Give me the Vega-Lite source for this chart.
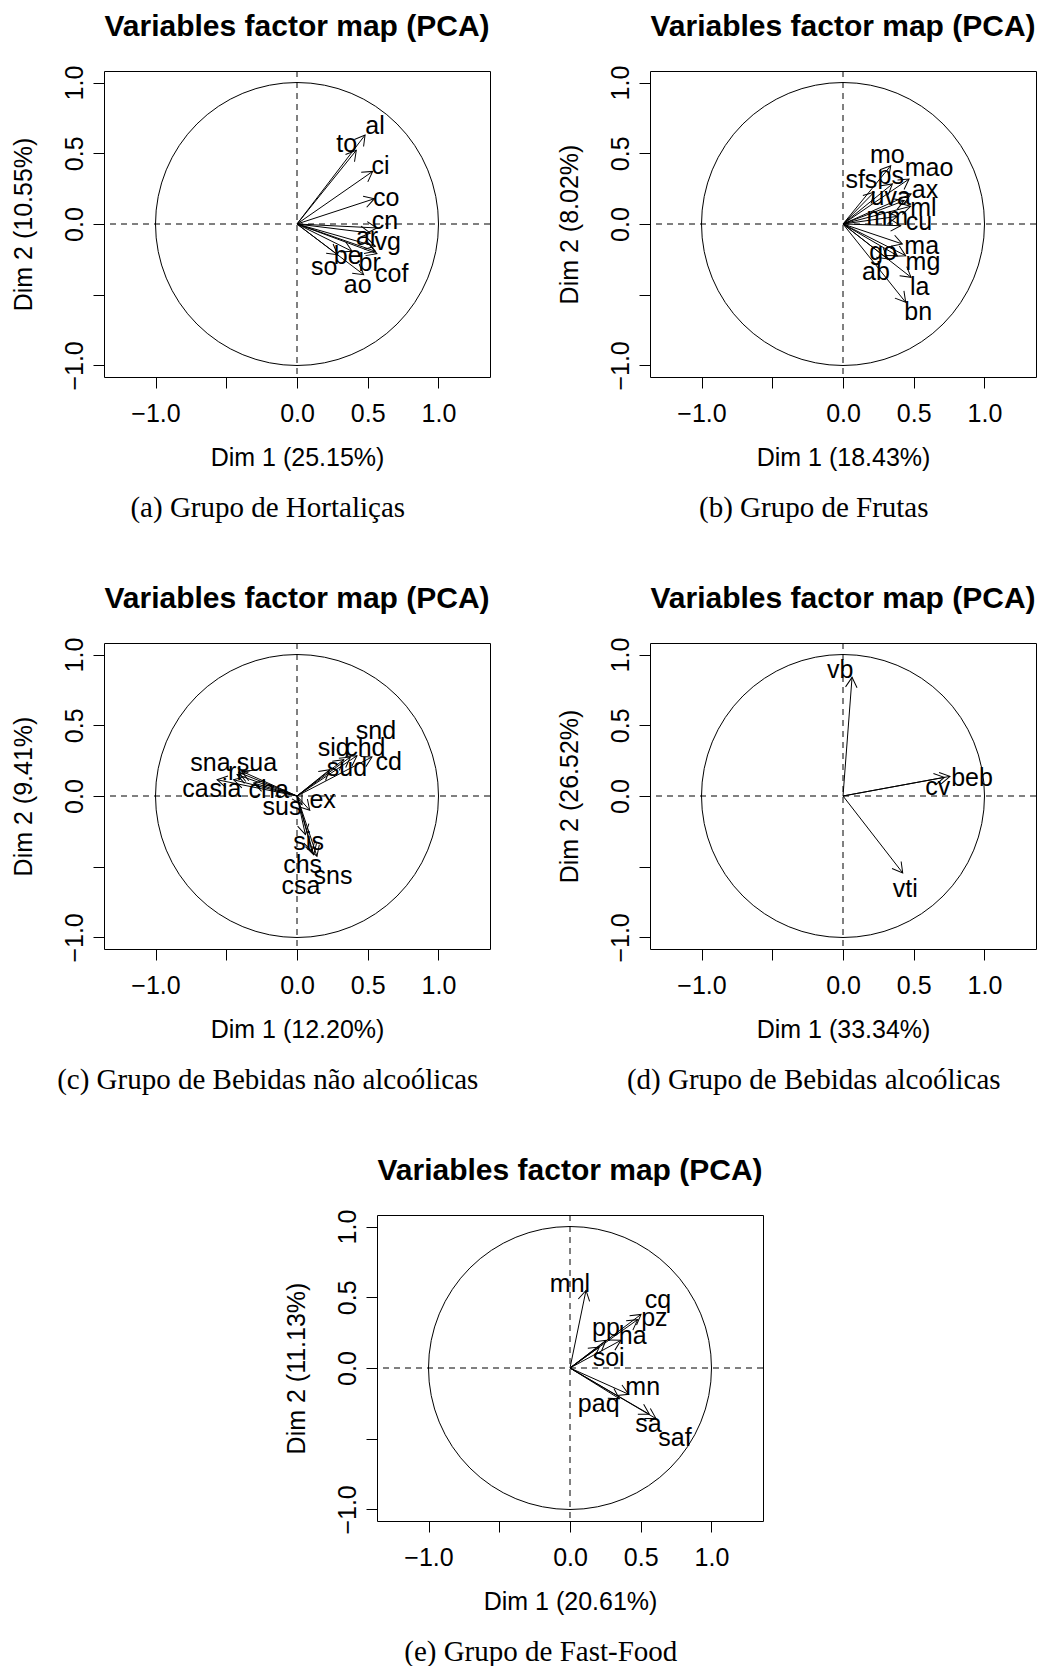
{
  "$schema": "https://vega.github.io/schema/vega-lite/v6.json",
  "background": "white",
  "padding": {"left": 10, "top": 11, "right": 0, "bottom": 0},
  "datasets": {
    "a": [
      {"name": "al", "x": 0.481, "y": 0.629, "lx": 0.551, "ly": 0.693},
      {"name": "to", "x": 0.419, "y": 0.521, "lx": 0.351, "ly": 0.565},
      {"name": "ci", "x": 0.535, "y": 0.372, "lx": 0.591, "ly": 0.408},
      {"name": "co", "x": 0.547, "y": 0.179, "lx": 0.631, "ly": 0.184},
      {"name": "cn", "x": 0.565, "y": -0.028, "lx": 0.622, "ly": 0.019},
      {"name": "ar", "x": 0.518, "y": -0.064, "lx": 0.495, "ly": -0.092},
      {"name": "vg", "x": 0.554, "y": -0.158, "lx": 0.641, "ly": -0.130},
      {"name": "be", "x": 0.389, "y": -0.193, "lx": 0.358, "ly": -0.229},
      {"name": "br", "x": 0.554, "y": -0.193, "lx": 0.514, "ly": -0.276},
      {"name": "cof", "x": 0.565, "y": -0.210, "lx": 0.669, "ly": -0.351},
      {"name": "ao", "x": 0.471, "y": -0.358, "lx": 0.429, "ly": -0.429},
      {"name": "so", "x": 0.287, "y": -0.217, "lx": 0.193, "ly": -0.304}
    ],
    "b": [
      {"name": "mo", "x": 0.337, "y": 0.412, "lx": 0.313, "ly": 0.488},
      {"name": "mao", "x": 0.467, "y": 0.318, "lx": 0.608, "ly": 0.396},
      {"name": "sfs", "x": 0.219, "y": 0.224, "lx": 0.130, "ly": 0.311},
      {"name": "ps", "x": 0.349, "y": 0.283, "lx": 0.337, "ly": 0.342},
      {"name": "ax", "x": 0.481, "y": 0.212, "lx": 0.580, "ly": 0.243},
      {"name": "uva", "x": 0.433, "y": 0.165, "lx": 0.337, "ly": 0.188},
      {"name": "ml", "x": 0.478, "y": 0.125, "lx": 0.568, "ly": 0.113},
      {"name": "mm", "x": 0.384, "y": 0.054, "lx": 0.313, "ly": 0.047},
      {"name": "cu", "x": 0.408, "y": -0.012, "lx": 0.537, "ly": 0.012},
      {"name": "ma", "x": 0.419, "y": -0.141, "lx": 0.556, "ly": -0.153},
      {"name": "go", "x": 0.384, "y": -0.224, "lx": 0.283, "ly": -0.196},
      {"name": "mg", "x": 0.443, "y": -0.224, "lx": 0.565, "ly": -0.271},
      {"name": "ab", "x": 0.316, "y": -0.247, "lx": 0.233, "ly": -0.337},
      {"name": "la", "x": 0.481, "y": -0.377, "lx": 0.542, "ly": -0.448},
      {"name": "bn", "x": 0.443, "y": -0.554, "lx": 0.532, "ly": -0.620}
    ],
    "c": [
      {"name": "snd", "x": 0.424, "y": 0.285, "lx": 0.558, "ly": 0.457},
      {"name": "sid", "x": 0.330, "y": 0.257, "lx": 0.259, "ly": 0.339},
      {"name": "chd", "x": 0.377, "y": 0.276, "lx": 0.483, "ly": 0.339},
      {"name": "sud", "x": 0.231, "y": 0.186, "lx": 0.353, "ly": 0.198},
      {"name": "cd", "x": 0.530, "y": 0.276, "lx": 0.648, "ly": 0.238},
      {"name": "sna", "x": -0.412, "y": 0.167, "lx": -0.612, "ly": 0.233},
      {"name": "sua", "x": -0.389, "y": 0.174, "lx": -0.283, "ly": 0.233},
      {"name": "ri", "x": -0.424, "y": 0.151, "lx": -0.438, "ly": 0.170},
      {"name": "ca", "x": -0.565, "y": 0.115, "lx": -0.718, "ly": 0.049},
      {"name": "sia", "x": -0.448, "y": 0.115, "lx": -0.506, "ly": 0.049},
      {"name": "cha", "x": -0.306, "y": 0.092, "lx": -0.200, "ly": 0.045},
      {"name": "sus", "x": 0.035, "y": -0.061, "lx": -0.106, "ly": -0.078},
      {"name": "ex", "x": 0.090, "y": -0.101, "lx": 0.181, "ly": -0.031},
      {"name": "sis", "x": 0.059, "y": -0.273, "lx": 0.082, "ly": -0.327},
      {"name": "chs", "x": 0.106, "y": -0.391, "lx": 0.040, "ly": -0.485},
      {"name": "sns", "x": 0.141, "y": -0.426, "lx": 0.254, "ly": -0.568},
      {"name": "csa", "x": 0.118, "y": -0.415, "lx": 0.028, "ly": -0.634}
    ],
    "d": [
      {"name": "vb", "x": 0.064, "y": 0.839, "lx": -0.019, "ly": 0.888},
      {"name": "beb", "x": 0.756, "y": 0.139, "lx": 0.912, "ly": 0.127},
      {"name": "cv", "x": 0.716, "y": 0.132, "lx": 0.669, "ly": 0.064},
      {"name": "vti", "x": 0.422, "y": -0.544, "lx": 0.440, "ly": -0.657}
    ],
    "e": [
      {"name": "mnl", "x": 0.113, "y": 0.549, "lx": 0.0, "ly": 0.596},
      {"name": "cq", "x": 0.502, "y": 0.379, "lx": 0.622, "ly": 0.483},
      {"name": "pz", "x": 0.478, "y": 0.342, "lx": 0.596, "ly": 0.353},
      {"name": "pp", "x": 0.254, "y": 0.196, "lx": 0.254, "ly": 0.283},
      {"name": "ha", "x": 0.360, "y": 0.196, "lx": 0.443, "ly": 0.224},
      {"name": "soi", "x": 0.207, "y": 0.148, "lx": 0.273, "ly": 0.073},
      {"name": "mn", "x": 0.415, "y": -0.186, "lx": 0.514, "ly": -0.134},
      {"name": "paq", "x": 0.349, "y": -0.217, "lx": 0.203, "ly": -0.252},
      {"name": "sa", "x": 0.561, "y": -0.327, "lx": 0.554, "ly": -0.393},
      {"name": "saf", "x": 0.608, "y": -0.358, "lx": 0.742, "ly": -0.492}
    ]
  },
  "vconcat": [
    {
      "hconcat": [
        {
          "title": {"text": "(a) Grupo de Hortaliças", "orient": "bottom", "anchor": "middle", "frame": "bounds", "baseline": "top", "offset": 23, "dx": 17, "font": "Liberation Serif", "fontSize": 29, "fontWeight": "normal"},
          "vconcat": [
            {
              "title": "Variables factor map (PCA)",
              "width": 386, "height": 306,
              "layer": [
                {"data": {"values": [{}]}, "mark": {"type": "rule", "strokeDash": [6, 5], "color": "black", "strokeWidth": 1},
                 "encoding": {"x": {"datum": 0, "type": "quantitative", "scale": {"domain": [-1.364, 1.364]}, "axis": {"title": "Dim 1 (25.15%)", "values": [-1, -0.5, 0, 0.5, 1]}}}},
                {"data": {"values": [{}]}, "mark": {"type": "rule", "strokeDash": [6, 5], "color": "black", "strokeWidth": 1},
                 "encoding": {"y": {"datum": 0, "type": "quantitative", "scale": {"domain": [-1.082, 1.082]}, "axis": {"title": "Dim 2 (10.55%)", "values": [-1, -0.5, 0, 0.5, 1]}}}},
                {"data": {"values": [{}]}, "mark": {"type": "point", "shape": "circle", "size": 80089, "filled": false, "color": "black", "strokeWidth": 1, "opacity": 1},
                 "encoding": {"x": {"datum": 0, "type": "quantitative", "scale": {"domain": [-1.364, 1.364]}}, "y": {"datum": 0, "type": "quantitative", "scale": {"domain": [-1.082, 1.082]}}}},
                {"data": {"name": "a"}, "mark": {"type": "rule", "color": "black", "strokeWidth": 1},
                 "encoding": {"x": {"field": "x", "type": "quantitative", "scale": {"domain": [-1.364, 1.364]}}, "y": {"field": "y", "type": "quantitative", "scale": {"domain": [-1.082, 1.082]}}, "x2": {"datum": 0}, "y2": {"datum": 0}}},
                {"data": {"name": "a"}, "mark": {"type": "point", "shape": "M-0.577,1L0,0L0.577,1", "size": 400, "filled": false, "color": "black", "strokeWidth": 1, "opacity": 1, "angle": {"expr": "atan2(datum.x, datum.y) * 180 / PI"}},
                 "encoding": {"x": {"field": "x", "type": "quantitative", "scale": {"domain": [-1.364, 1.364]}}, "y": {"field": "y", "type": "quantitative", "scale": {"domain": [-1.082, 1.082]}}}},
                {"data": {"name": "a"}, "mark": {"type": "text", "fontSize": 25, "color": "black", "align": "center", "baseline": "middle"},
                 "encoding": {"x": {"field": "lx", "type": "quantitative", "scale": {"domain": [-1.364, 1.364]}}, "y": {"field": "ly", "type": "quantitative", "scale": {"domain": [-1.082, 1.082]}}, "text": {"field": "name", "type": "nominal"}}}
              ]
            }
          ]
        },
        {
          "title": {"text": "(b) Grupo de Frutas", "orient": "bottom", "anchor": "middle", "frame": "bounds", "baseline": "top", "offset": 23, "dx": 17, "font": "Liberation Serif", "fontSize": 29, "fontWeight": "normal"},
          "vconcat": [
            {
              "title": "Variables factor map (PCA)",
              "width": 386, "height": 306,
              "layer": [
                {"data": {"values": [{}]}, "mark": {"type": "rule", "strokeDash": [6, 5], "color": "black", "strokeWidth": 1},
                 "encoding": {"x": {"datum": 0, "type": "quantitative", "scale": {"domain": [-1.364, 1.364]}, "axis": {"title": "Dim 1 (18.43%)", "values": [-1, -0.5, 0, 0.5, 1]}}}},
                {"data": {"values": [{}]}, "mark": {"type": "rule", "strokeDash": [6, 5], "color": "black", "strokeWidth": 1},
                 "encoding": {"y": {"datum": 0, "type": "quantitative", "scale": {"domain": [-1.082, 1.082]}, "axis": {"title": "Dim 2 (8.02%)", "values": [-1, -0.5, 0, 0.5, 1]}}}},
                {"data": {"values": [{}]}, "mark": {"type": "point", "shape": "circle", "size": 80089, "filled": false, "color": "black", "strokeWidth": 1, "opacity": 1},
                 "encoding": {"x": {"datum": 0, "type": "quantitative", "scale": {"domain": [-1.364, 1.364]}}, "y": {"datum": 0, "type": "quantitative", "scale": {"domain": [-1.082, 1.082]}}}},
                {"data": {"name": "b"}, "mark": {"type": "rule", "color": "black", "strokeWidth": 1},
                 "encoding": {"x": {"field": "x", "type": "quantitative", "scale": {"domain": [-1.364, 1.364]}}, "y": {"field": "y", "type": "quantitative", "scale": {"domain": [-1.082, 1.082]}}, "x2": {"datum": 0}, "y2": {"datum": 0}}},
                {"data": {"name": "b"}, "mark": {"type": "point", "shape": "M-0.577,1L0,0L0.577,1", "size": 400, "filled": false, "color": "black", "strokeWidth": 1, "opacity": 1, "angle": {"expr": "atan2(datum.x, datum.y) * 180 / PI"}},
                 "encoding": {"x": {"field": "x", "type": "quantitative", "scale": {"domain": [-1.364, 1.364]}}, "y": {"field": "y", "type": "quantitative", "scale": {"domain": [-1.082, 1.082]}}}},
                {"data": {"name": "b"}, "mark": {"type": "text", "fontSize": 25, "color": "black", "align": "center", "baseline": "middle"},
                 "encoding": {"x": {"field": "lx", "type": "quantitative", "scale": {"domain": [-1.364, 1.364]}}, "y": {"field": "ly", "type": "quantitative", "scale": {"domain": [-1.082, 1.082]}}, "text": {"field": "name", "type": "nominal"}}}
              ]
            }
          ]
        }
      ],
      "spacing": 65
    },
    {
      "hconcat": [
        {
          "title": {"text": "(c) Grupo de Bebidas não alcoólicas", "orient": "bottom", "anchor": "middle", "frame": "bounds", "baseline": "top", "offset": 23, "dx": 17, "font": "Liberation Serif", "fontSize": 29, "fontWeight": "normal"},
          "vconcat": [
            {
              "title": "Variables factor map (PCA)",
              "width": 386, "height": 306,
              "layer": [
                {"data": {"values": [{}]}, "mark": {"type": "rule", "strokeDash": [6, 5], "color": "black", "strokeWidth": 1},
                 "encoding": {"x": {"datum": 0, "type": "quantitative", "scale": {"domain": [-1.364, 1.364]}, "axis": {"title": "Dim 1 (12.20%)", "values": [-1, -0.5, 0, 0.5, 1]}}}},
                {"data": {"values": [{}]}, "mark": {"type": "rule", "strokeDash": [6, 5], "color": "black", "strokeWidth": 1},
                 "encoding": {"y": {"datum": 0, "type": "quantitative", "scale": {"domain": [-1.082, 1.082]}, "axis": {"title": "Dim 2 (9.41%)", "values": [-1, -0.5, 0, 0.5, 1]}}}},
                {"data": {"values": [{}]}, "mark": {"type": "point", "shape": "circle", "size": 80089, "filled": false, "color": "black", "strokeWidth": 1, "opacity": 1},
                 "encoding": {"x": {"datum": 0, "type": "quantitative", "scale": {"domain": [-1.364, 1.364]}}, "y": {"datum": 0, "type": "quantitative", "scale": {"domain": [-1.082, 1.082]}}}},
                {"data": {"name": "c"}, "mark": {"type": "rule", "color": "black", "strokeWidth": 1},
                 "encoding": {"x": {"field": "x", "type": "quantitative", "scale": {"domain": [-1.364, 1.364]}}, "y": {"field": "y", "type": "quantitative", "scale": {"domain": [-1.082, 1.082]}}, "x2": {"datum": 0}, "y2": {"datum": 0}}},
                {"data": {"name": "c"}, "mark": {"type": "point", "shape": "M-0.577,1L0,0L0.577,1", "size": 400, "filled": false, "color": "black", "strokeWidth": 1, "opacity": 1, "angle": {"expr": "atan2(datum.x, datum.y) * 180 / PI"}},
                 "encoding": {"x": {"field": "x", "type": "quantitative", "scale": {"domain": [-1.364, 1.364]}}, "y": {"field": "y", "type": "quantitative", "scale": {"domain": [-1.082, 1.082]}}}},
                {"data": {"name": "c"}, "mark": {"type": "text", "fontSize": 25, "color": "black", "align": "center", "baseline": "middle"},
                 "encoding": {"x": {"field": "lx", "type": "quantitative", "scale": {"domain": [-1.364, 1.364]}}, "y": {"field": "ly", "type": "quantitative", "scale": {"domain": [-1.082, 1.082]}}, "text": {"field": "name", "type": "nominal"}}}
              ]
            }
          ]
        },
        {
          "title": {"text": "(d) Grupo de Bebidas alcoólicas", "orient": "bottom", "anchor": "middle", "frame": "bounds", "baseline": "top", "offset": 23, "dx": 17, "font": "Liberation Serif", "fontSize": 29, "fontWeight": "normal"},
          "vconcat": [
            {
              "title": "Variables factor map (PCA)",
              "width": 386, "height": 306,
              "layer": [
                {"data": {"values": [{}]}, "mark": {"type": "rule", "strokeDash": [6, 5], "color": "black", "strokeWidth": 1},
                 "encoding": {"x": {"datum": 0, "type": "quantitative", "scale": {"domain": [-1.364, 1.364]}, "axis": {"title": "Dim 1 (33.34%)", "values": [-1, -0.5, 0, 0.5, 1]}}}},
                {"data": {"values": [{}]}, "mark": {"type": "rule", "strokeDash": [6, 5], "color": "black", "strokeWidth": 1},
                 "encoding": {"y": {"datum": 0, "type": "quantitative", "scale": {"domain": [-1.082, 1.082]}, "axis": {"title": "Dim 2 (26.52%)", "values": [-1, -0.5, 0, 0.5, 1]}}}},
                {"data": {"values": [{}]}, "mark": {"type": "point", "shape": "circle", "size": 80089, "filled": false, "color": "black", "strokeWidth": 1, "opacity": 1},
                 "encoding": {"x": {"datum": 0, "type": "quantitative", "scale": {"domain": [-1.364, 1.364]}}, "y": {"datum": 0, "type": "quantitative", "scale": {"domain": [-1.082, 1.082]}}}},
                {"data": {"name": "d"}, "mark": {"type": "rule", "color": "black", "strokeWidth": 1},
                 "encoding": {"x": {"field": "x", "type": "quantitative", "scale": {"domain": [-1.364, 1.364]}}, "y": {"field": "y", "type": "quantitative", "scale": {"domain": [-1.082, 1.082]}}, "x2": {"datum": 0}, "y2": {"datum": 0}}},
                {"data": {"name": "d"}, "mark": {"type": "point", "shape": "M-0.577,1L0,0L0.577,1", "size": 400, "filled": false, "color": "black", "strokeWidth": 1, "opacity": 1, "angle": {"expr": "atan2(datum.x, datum.y) * 180 / PI"}},
                 "encoding": {"x": {"field": "x", "type": "quantitative", "scale": {"domain": [-1.364, 1.364]}}, "y": {"field": "y", "type": "quantitative", "scale": {"domain": [-1.082, 1.082]}}}},
                {"data": {"name": "d"}, "mark": {"type": "text", "fontSize": 25, "color": "black", "align": "center", "baseline": "middle"},
                 "encoding": {"x": {"field": "lx", "type": "quantitative", "scale": {"domain": [-1.364, 1.364]}}, "y": {"field": "ly", "type": "quantitative", "scale": {"domain": [-1.082, 1.082]}}, "text": {"field": "name", "type": "nominal"}}}
              ]
            }
          ]
        }
      ],
      "spacing": 65
    },
    {
      "title": {"text": "(e) Grupo de Fast-Food", "orient": "bottom", "anchor": "middle", "frame": "bounds", "baseline": "top", "offset": 23, "dx": 17, "font": "Liberation Serif", "fontSize": 29, "fontWeight": "normal"},
      "vconcat": [
        {
          "title": "Variables factor map (PCA)",
          "width": 386, "height": 306,
          "layer": [
            {"data": {"values": [{}]}, "mark": {"type": "rule", "strokeDash": [6, 5], "color": "black", "strokeWidth": 1},
             "encoding": {"x": {"datum": 0, "type": "quantitative", "scale": {"domain": [-1.364, 1.364]}, "axis": {"title": "Dim 1 (20.61%)", "values": [-1, -0.5, 0, 0.5, 1]}}}},
            {"data": {"values": [{}]}, "mark": {"type": "rule", "strokeDash": [6, 5], "color": "black", "strokeWidth": 1},
             "encoding": {"y": {"datum": 0, "type": "quantitative", "scale": {"domain": [-1.082, 1.082]}, "axis": {"title": "Dim 2 (11.13%)", "values": [-1, -0.5, 0, 0.5, 1]}}}},
            {"data": {"values": [{}]}, "mark": {"type": "point", "shape": "circle", "size": 80089, "filled": false, "color": "black", "strokeWidth": 1, "opacity": 1},
             "encoding": {"x": {"datum": 0, "type": "quantitative", "scale": {"domain": [-1.364, 1.364]}}, "y": {"datum": 0, "type": "quantitative", "scale": {"domain": [-1.082, 1.082]}}}},
            {"data": {"name": "e"}, "mark": {"type": "rule", "color": "black", "strokeWidth": 1},
             "encoding": {"x": {"field": "x", "type": "quantitative", "scale": {"domain": [-1.364, 1.364]}}, "y": {"field": "y", "type": "quantitative", "scale": {"domain": [-1.082, 1.082]}}, "x2": {"datum": 0}, "y2": {"datum": 0}}},
            {"data": {"name": "e"}, "mark": {"type": "point", "shape": "M-0.577,1L0,0L0.577,1", "size": 400, "filled": false, "color": "black", "strokeWidth": 1, "opacity": 1, "angle": {"expr": "atan2(datum.x, datum.y) * 180 / PI"}},
             "encoding": {"x": {"field": "x", "type": "quantitative", "scale": {"domain": [-1.364, 1.364]}}, "y": {"field": "y", "type": "quantitative", "scale": {"domain": [-1.082, 1.082]}}}},
            {"data": {"name": "e"}, "mark": {"type": "text", "fontSize": 25, "color": "black", "align": "center", "baseline": "middle"},
             "encoding": {"x": {"field": "lx", "type": "quantitative", "scale": {"domain": [-1.364, 1.364]}}, "y": {"field": "ly", "type": "quantitative", "scale": {"domain": [-1.082, 1.082]}}, "text": {"field": "name", "type": "nominal"}}}
          ]
        }
      ]
    }
  ],
  "spacing": 60,
  "center": true,
  "config": {
    "font": "Liberation Sans",
    "view": {"stroke": "black", "strokeWidth": 1},
    "axis": {
      "domain": false, "grid": false, "ticks": true, "tickColor": "black", "tickWidth": 1, "tickSize": 11,
      "labelColor": "black", "labelFont": "Liberation Sans", "labelFontSize": 25,
      "labelFlush": false, "labelOverlap": false,
      "labelExpr": "datum.value == -0.5 ? '' : format(datum.value, '.1f')",
      "titleColor": "black", "titleFont": "Liberation Sans", "titleFontSize": 25, "titleFontWeight": "normal"
    },
    "axisX": {"labelPadding": 13, "titlePadding": 19},
    "axisY": {"labelAngle": -90, "labelAlign": "center", "labelBaseline": "alphabetic", "labelPadding": 11, "titlePadding": 26},
    "title": {"font": "Liberation Sans", "fontSize": 30, "fontWeight": "bold", "color": "black", "anchor": "middle", "frame": "group", "baseline": "alphabetic", "offset": 23}
  }
}
